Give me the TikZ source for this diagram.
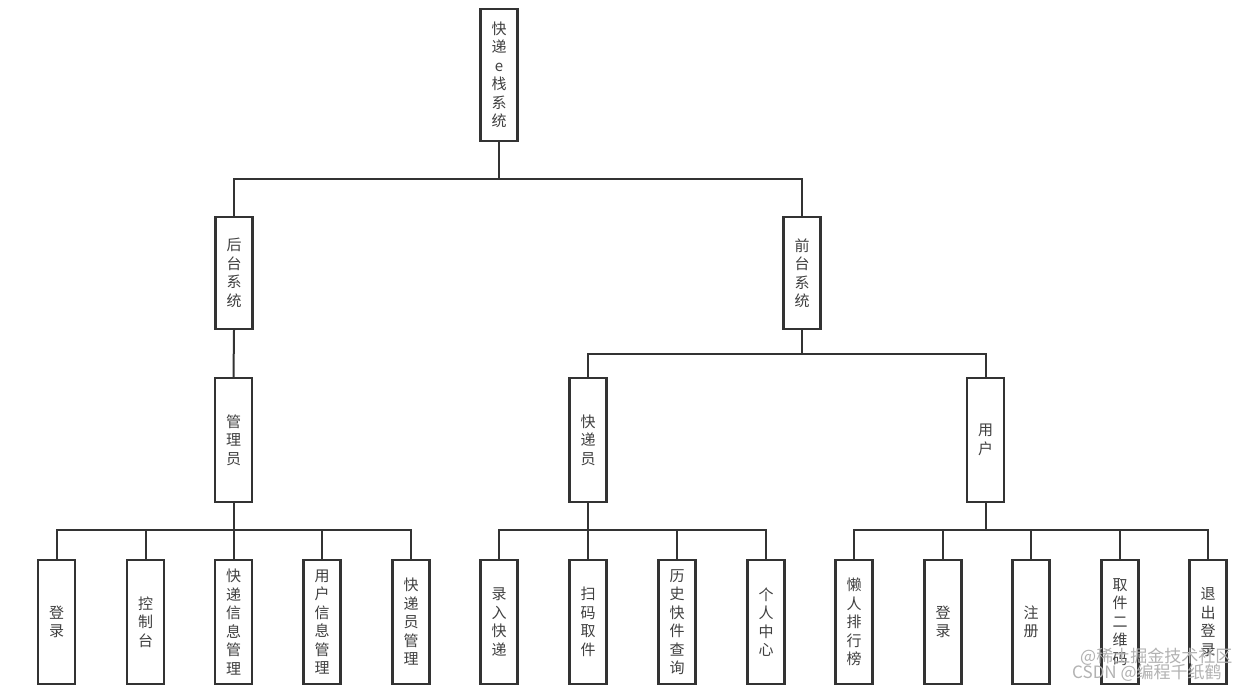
\documentclass[tikz,border=0pt]{standalone}
\usepackage{fontspec}
\setmainfont{Noto Sans CJK SC}
\newfontfamily\cjk{Noto Sans CJK SC}
\begin{document}
\begin{tikzpicture}[x=1pt,y=-1pt,
  box/.style={draw=black!80,line width=2.4pt,fill=white,minimum width=37pt,inner sep=0pt,
    align=center,font=\cjk\fontsize{15}{18.5}\selectfont,text=black!75},
  top/.style={box,minimum height=132pt},
  mid/.style={box,minimum height=112pt},
  low/.style={box,minimum height=124pt},
  link/.style={draw=black!80,line width=2pt},
  wm/.style={text=black!30,font=\cjk\fontsize{17}{17}\selectfont,inner sep=0pt}]
\useasboundingbox (0,0) rectangle (1260,692);
\fill[white] (0,0) rectangle (1260,692);
% nodes
\node[top] (root) at (499,75) {快\\递\\e\\栈\\系\\统};
\node[mid] (hou) at (234,273) {后\\台\\系\\统};
\node[mid] (qian) at (802,273) {前\\台\\系\\统};
\node[low] (gly) at (233.5,440) {管\\理\\员};
\node[low] (kdy) at (588,440) {快\\递\\员};
\node[low] (yh) at (985.5,440) {用\\户};
\node[low] (a1) at (56.5,622) {登\\录};
\node[low] (a2) at (145.5,622) {控\\制\\台};
\node[low] (a3) at (233.5,622) {快\\递\\信\\息\\管\\理};
\node[low] (a4) at (322,622) {用\\户\\信\\息\\管\\理};
\node[low] (a5) at (411,622) {快\\递\\员\\管\\理};
\node[low] (b1) at (499,622) {录\\入\\快\\递};
\node[low] (b2) at (588,622) {扫\\码\\取\\件};
\node[low] (b3) at (677,622) {历\\史\\快\\件\\查\\询};
\node[low] (b4) at (766,622) {个\\人\\中\\心};
\node[low] (c1) at (854,622) {懒\\人\\排\\行\\榜};
\node[low] (c2) at (943,622) {登\\录};
\node[low] (c3) at (1031,622) {注\\册};
\node[low] (c4) at (1120,622) {取\\件\\二\\维\\码};
\node[low] (c5) at (1208,622) {退\\出\\登\\录};
% bus coordinates
\coordinate (r1) at (499,179);
\coordinate (q1) at (802,354);
\coordinate (g1) at (233.5,530);
\coordinate (k1) at (588,530);
\coordinate (y1) at (985.5,530);
% connectors
\foreach \c in {hou,qian} \draw[link] (root.south) -- (r1) -| (\c.north);
\draw[link] (hou.south) -- (gly.north);
\foreach \c in {kdy,yh} \draw[link] (qian.south) -- (q1) -| (\c.north);
\foreach \c in {a1,a2,a3,a4,a5} \draw[link] (gly.south) -- (g1) -| (\c.north);
\foreach \c in {b1,b2,b3,b4} \draw[link] (kdy.south) -- (k1) -| (\c.north);
\foreach \c in {c1,c2,c3,c4,c5} \draw[link] (yh.south) -- (y1) -| (\c.north);
% watermark
\node[wm,anchor=west] (w1) at (1080,657) {@稀土掘金技术社区};
\node[wm,anchor=west] (w2) at (1072,673) {CSDN @编程千纸鹤};
\end{tikzpicture}
\end{document}
